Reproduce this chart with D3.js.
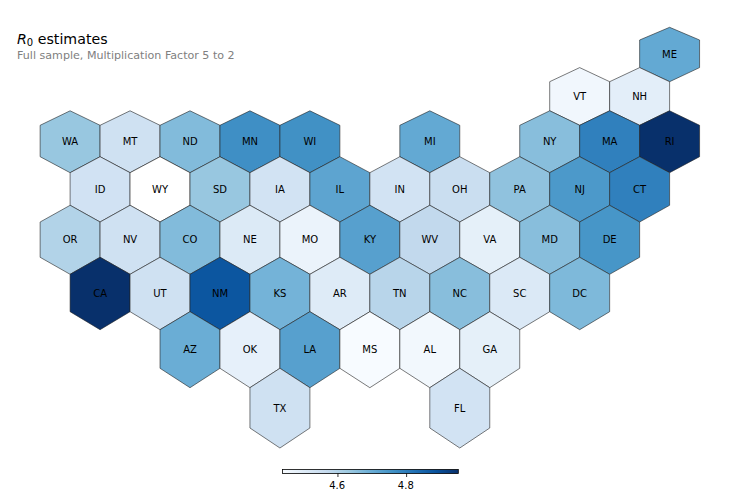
<!DOCTYPE html>
<html>
<head>
<meta charset="utf-8">
<script src="https://cdn.jsdelivr.net/npm/d3@7"></script>
<style>
  html, body { margin: 0; padding: 0; background: #fff; }
  svg { display: block; opacity: 0.999; }
  text { font-family: "DejaVu Sans", sans-serif; }
</style>
</head>
<body>
<svg class="chart"></svg>
<script>
const states = ["ME",
  "VT", "NH",
  "WA", "MT", "ND", "MN", "WI", "MI", "NY", "MA", "RI",
  "ID", "WY", "SD", "IA", "IL", "IN", "OH", "PA", "NJ", "CT",
  "OR", "NV", "CO", "NE", "MO", "KY", "WV", "VA", "MD", "DE",
  "CA", "UT", "NM", "KS", "AR", "TN", "NC", "SC", "DC",
  "AZ", "OK", "LA", "MS", "AL", "GA",
  "TX", "FL"];
// grid place of each state, columns count in half hexagons
const gridCols = [20,
  17, 19,
  0, 2, 4, 6, 8, 12, 16, 18, 20,
  1, 3, 5, 7, 9, 11, 13, 15, 17, 19,
  0, 2, 4, 6, 8, 10, 12, 14, 16, 18,
  1, 3, 5, 7, 9, 11, 13, 15, 17,
  4, 6, 8, 10, 12, 14,
  7, 13];
const gridRows = [0,
  1, 1,
  2, 2, 2, 2, 2, 2, 2, 2, 2,
  3, 3, 3, 3, 3, 3, 3, 3, 3, 3,
  4, 4, 4, 4, 4, 4, 4, 4, 4, 4,
  5, 5, 5, 5, 5, 5, 5, 5, 5,
  6, 6, 6, 6, 6, 6,
  7, 7];
// WY has no estimate, it is left white
const r0 = [4.708,
  4.455, 4.491,
  4.640, 4.545, 4.667, 4.765, 4.762, 4.708, 4.660, 4.795, 4.952,
  4.540, null, 4.640, 4.535, 4.718, 4.535, 4.558, 4.650, 4.745, 4.795,
  4.600, 4.545, 4.667, 4.509, 4.471, 4.728, 4.575, 4.486, 4.660, 4.752,
  4.952, 4.545, 4.878, 4.685, 4.504, 4.590, 4.660, 4.512, 4.672,
  4.698, 4.484, 4.728, 4.440, 4.453, 4.486,
  4.543, 4.535];
const barTicks = [4.6, 4.8];
const blues = ["#f7fbff", "#deebf7", "#c6dbef", "#9ecae1", "#6baed6", "#4292c6", "#2171b5", "#08519c", "#08306b"];

const width = 739, height = 497;
const r0Min = 4.44, r0Max = 4.952;

const chart = d3.select(".chart")
  .attr("width", width)
  .attr("height", height);

const x = d3.scaleLinear().domain([0, 20]).range([70.1, 669.6]);
// the map is projected, so the rows get taller going south
const y = d3.scaleLinear()
  .domain([0, 1, 3, 4, 6, 7, 9, 10, 12, 13, 15, 16, 18, 19, 21, 22, 24, 25])
  .range([27.3, 40, 67.6, 81.7, 110.8, 125.3, 156.7, 172.7, 205.3, 222, 257.3, 274.3, 311.7, 329.7, 368.3, 387.7, 428, 448]);
const color = d3.scaleLinear()
  .domain(blues.map((d, i) => r0Min + (r0Max - r0Min) * i / (blues.length - 1)))
  .range(blues);

const line = d3.line();
function hexagon(col, row) {
  const k = row * 3;
  return line([
    [x(col), y(k)],
    [x(col + 1), y(k + 1)],
    [x(col + 1), y(k + 3)],
    [x(col), y(k + 4)],
    [x(col - 1), y(k + 3)],
    [x(col - 1), y(k + 1)]
  ]) + "Z";
}

const cells = states.map((s, i) => ({ state: s, col: gridCols[i], row: gridRows[i], value: r0[i] }));

chart.append("g").selectAll("path")
  .data(cells)
  .enter().append("path")
  .attr("d", d => hexagon(d.col, d.row))
  .attr("fill", d => d.value === null ? "#fff" : color(d.value))
  .attr("stroke", "#222")
  .attr("stroke-width", 0.6)
  .attr("stroke-linejoin", "miter");

chart.append("g").selectAll("text")
  .data(cells)
  .enter().append("text")
  .attr("x", d => x(d.col))
  .attr("y", d => (y(d.row * 3) + y(d.row * 3 + 4)) / 2)
  .attr("dy", "0.36em")
  .attr("text-anchor", "middle")
  .attr("font-size", 10)
  .attr("fill", "#000")
  .text(d => d.state);

// title
const title = chart.append("text")
  .attr("x", 17)
  .attr("y", 44)
  .attr("font-size", 14.2)
  .attr("fill", "#000");
title.append("tspan").attr("font-style", "italic").text("R");
title.append("tspan").attr("font-size", 10).attr("dy", 2).text("0");
title.append("tspan").attr("dy", -2).text(" estimates");

chart.append("text")
  .attr("x", 17)
  .attr("y", 59)
  .attr("font-size", 11.1)
  .attr("fill", "#808080")
  .text("Full sample, Multiplication Factor 5 to 2");

// colorbar
const barX = d3.scaleLinear().domain([r0Min, r0Max]).range([282.5, 458.3]);
const barTop = 469.5, barHeight = 4;

const gradient = chart.append("defs").append("linearGradient")
  .attr("id", "blues");
gradient.selectAll("stop")
  .data(blues)
  .enter().append("stop")
  .attr("offset", (d, i) => i / (blues.length - 1))
  .attr("stop-color", d => d);

chart.append("rect")
  .attr("x", barX.range()[0])
  .attr("y", barTop)
  .attr("width", barX.range()[1] - barX.range()[0])
  .attr("height", barHeight)
  .attr("fill", "url(#blues)")
  .attr("stroke", "#000")
  .attr("stroke-width", 0.8);

const barAxis = d3.axisBottom(barX)
  .tickValues(barTicks)
  .tickFormat(d3.format(".1f"))
  .tickSize(3.5)
  .tickPadding(4.5);

const axisG = chart.append("g")
  .attr("transform", `translate(0, ${barTop + barHeight})`)
  .call(barAxis);
axisG.select(".domain").remove();
axisG.selectAll(".tick line").attr("stroke", "#000").attr("stroke-width", 0.8);
axisG.selectAll(".tick text")
  .attr("fill", "#000")
  .attr("font-size", 10)
  .attr("dx", -0.8)
  .style("font-family", '"DejaVu Sans", sans-serif');
</script>
</body>
</html>
